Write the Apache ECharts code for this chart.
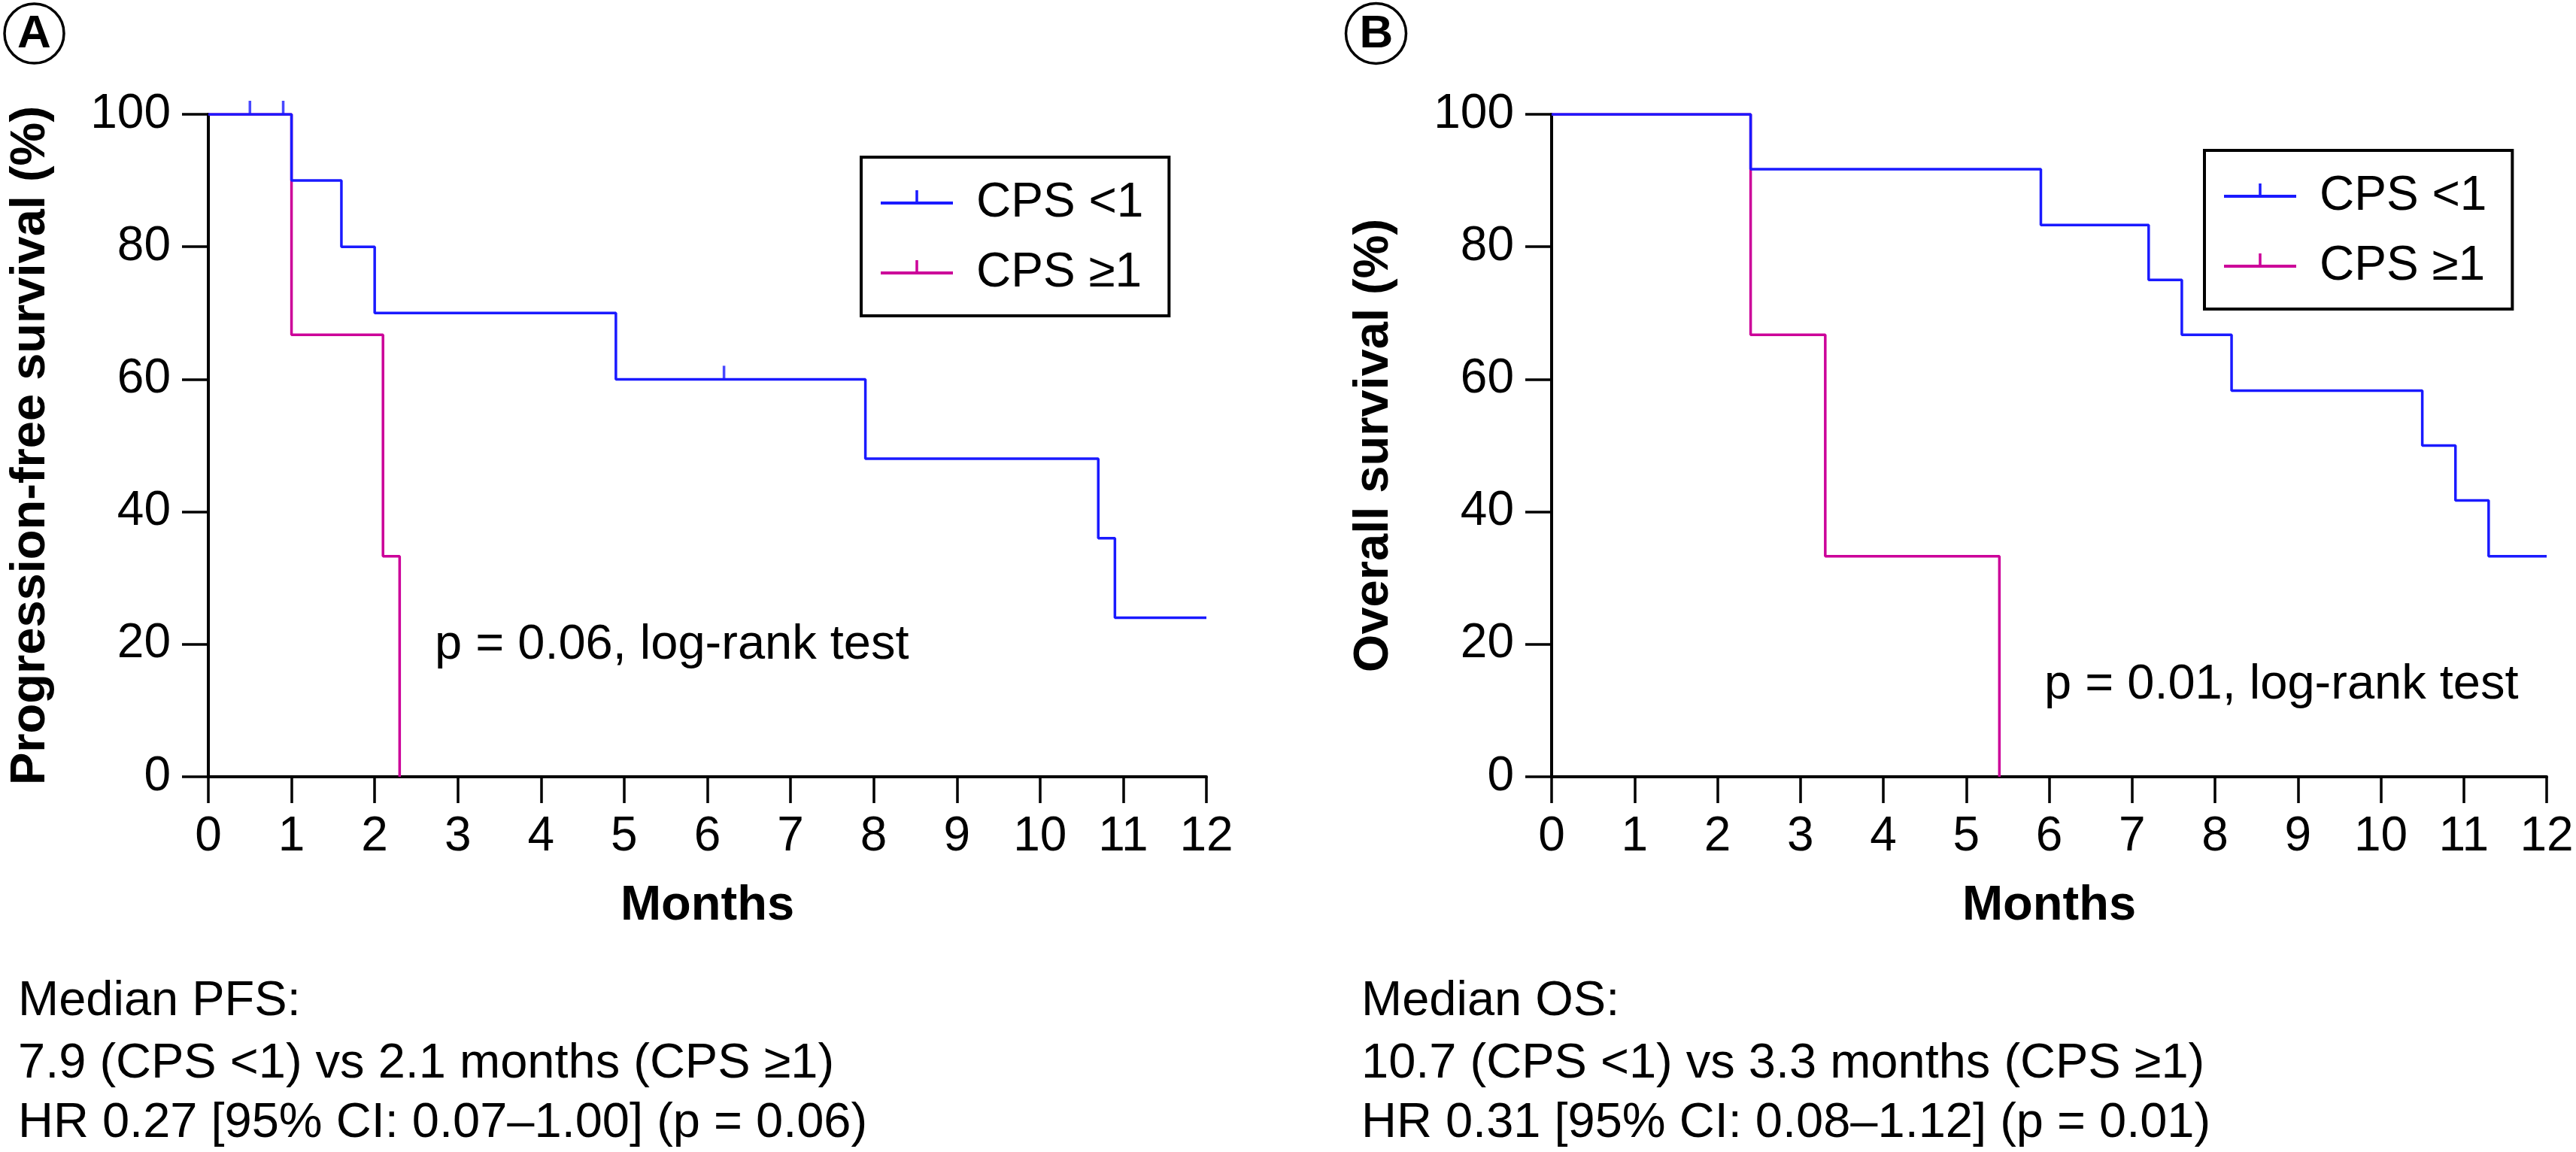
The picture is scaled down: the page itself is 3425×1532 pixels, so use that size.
<!DOCTYPE html>
<html>
<head>
<meta charset="utf-8">
<script src="https://cdn.jsdelivr.net/npm/echarts@6/dist/echarts.min.js"></script>
<style>
html,body{margin:0;padding:0;background:#fff;}
#c{width:3425px;height:1532px;}
</style>
</head>
<body>
<div id="c"></div>
<script>
// ---------------- data ----------------
const groups = ['CPS <1', 'CPS \u22651'];

// Panel A: progression-free survival
const pfsLowTime  = [0, 1.0, 1.6, 2.0, 4.9, 7.9, 10.7, 10.9, 12.0];
const pfsLowSurv  = [100, 90, 80, 70, 60, 48, 36, 24, 24];
const pfsLowCensorTime = [0.5, 0.9, 6.2];
const pfsLowCensorSurv = [100, 100, 60];
const pfsHighTime = [0, 1.0, 2.1, 2.3];
const pfsHighSurv = [100, 66.7, 33.3, 0];

// Panel B: overall survival
const osLowTime  = [0, 2.4, 5.9, 7.2, 7.6, 8.2, 10.5, 10.9, 11.3, 12.0];
const osLowSurv  = [100, 91.7, 83.3, 75, 66.7, 58.3, 50, 41.7, 33.3, 33.3];
const osHighTime = [0, 2.4, 3.3, 5.4];
const osHighSurv = [100, 66.7, 33.3, 0];

// axes
const monthMin = 0, monthMax = 12, monthStep = 1;
const survMin = 0, survMax = 100, survStep = 20;

// texts
const pText = ['p = 0.06, log-rank test', 'p = 0.01, log-rank test'];
const yTitles = ['Progression-free survival (%)', 'Overall survival (%)'];
const xTitle = 'Months';
const summaryA = ['Median PFS:', '7.9 (CPS <1) vs 2.1 months (CPS \u22651)', 'HR 0.27 [95% CI: 0.07\u20131.00] (p = 0.06)'];
const summaryB = ['Median OS:', '10.7 (CPS <1) vs 3.3 months (CPS \u22651)', 'HR 0.31 [95% CI: 0.08\u20131.12] (p = 0.01)'];

// ---------------- style ----------------
const F = '"Liberation Sans", Arial, Helvetica, sans-serif';
const BLUE = '#1a1aff';
const MAG = '#cc0099';
const zip = (t, s) => t.map((x, i) => [x, s[i]]);

const ICON = 'path://M0,15.1 L96,15.1 L96,18.9 L0,18.9 Z M46.25,0 L49.75,0 L49.75,16 L46.25,16 Z M122,34 L122,34 Z';

function xAx(gi) {
  return {
    type: 'value', gridIndex: gi, min: monthMin, max: monthMax, interval: monthStep,
    name: xTitle, nameLocation: 'middle', nameGap: 140,
    nameTextStyle: {fontSize: 65, fontWeight: 'bold', fontFamily: F, color: '#000', lineHeight: 65},
    axisLine: {show: true, onZero: false, lineStyle: {color: '#000', width: 4}},
    axisTick: {show: true, length: 35, lineStyle: {color: '#000', width: 3.5}},
    axisLabel: {margin: 48, fontSize: 64, fontFamily: F, color: '#000', lineHeight: 64},
    splitLine: {show: false}
  };
}
function yAx(gi, title) {
  return {
    type: 'value', gridIndex: gi, min: survMin, max: survMax, interval: survStep,
    name: title, nameLocation: 'middle', nameGap: 203,
    nameTextStyle: {fontSize: 65, fontWeight: 'bold', fontFamily: F, color: '#000', lineHeight: 65},
    axisLine: {show: true, onZero: false, lineStyle: {color: '#000', width: 4}},
    axisTick: {show: true, length: 35, lineStyle: {color: '#000', width: 3.5}},
    axisLabel: {margin: 50, fontSize: 64, fontFamily: F, color: '#000', lineHeight: 64},
    splitLine: {show: false}
  };
}
function legend(left, top) {
  return {
    orient: 'vertical', left: left, top: top,
    padding: [29, 34, 25, 26], itemGap: 29,
    itemWidth: 122, itemHeight: 34,
    borderColor: '#000', borderWidth: 4, backgroundColor: '#fff',
    selectedMode: false,
    textStyle: {fontSize: 64, fontFamily: F, color: '#000', lineHeight: 64},
    data: [
      {name: groups[0], icon: ICON, itemStyle: {color: BLUE, borderWidth: 0}},
      {name: groups[1], icon: ICON, itemStyle: {color: MAG, borderWidth: 0}}
    ]
  };
}
function km(name, gi, data, color) {
  return {
    type: 'line', name: name, xAxisIndex: gi, yAxisIndex: gi, step: 'end',
    data: data, showSymbol: false, symbol: 'none',
    lineStyle: {color: color, width: 3.5}, itemStyle: {color: color},
    emphasis: {disabled: true}, silent: true
  };
}
function censor(name, gi, data, color) {
  return {
    type: 'scatter', name: name, xAxisIndex: gi, yAxisIndex: gi,
    data: data, symbol: 'rect', symbolSize: [3.5, 18], symbolOffset: [0, -9],
    itemStyle: {color: color}, clip: false, silent: true, z: 3
  };
}
function txt(text, x, y, opts) {
  opts = opts || {};
  return {
    type: 'text', z: 10,
    style: {
      text: text, x: x, y: y,
      font: (opts.bold ? 'bold ' : '') + (opts.size || 65) + 'px ' + F,
      fill: '#000',
      align: opts.align || 'left', textAlign: opts.align || 'left',
      verticalAlign: 'middle', textVerticalAlign: 'middle'
    }
  };
}

const graphic = [
  {type: 'circle', shape: {cx: 45.5, cy: 44.5, r: 39.5}, style: {fill: '#fff', stroke: '#000', lineWidth: 3.5}},
  txt('A', 45.5, 46, {bold: true, size: 62, align: 'center'}),
  {type: 'circle', shape: {cx: 1829.5, cy: 44.5, r: 40}, style: {fill: '#fff', stroke: '#000', lineWidth: 3.5}},
  txt('B', 1830, 46, {bold: true, size: 62, align: 'center'}),
  txt(pText[0], 578, 858),
  txt(pText[1], 2718, 911),
  txt(summaryA[0], 24, 1332),
  txt(summaryA[1], 24, 1415),
  txt(summaryA[2], 24, 1494),
  txt(summaryB[0], 1810, 1332),
  txt(summaryB[1], 1810, 1415),
  txt(summaryB[2], 1810, 1494)
];

const option = {
  animation: false,
  backgroundColor: '#fff',
  grid: [
    {left: 277, top: 152, width: 1327, height: 881, outerBoundsMode: 'none', containLabel: false},
    {left: 2063, top: 152, width: 1323, height: 881, outerBoundsMode: 'none', containLabel: false}
  ],
  xAxis: [xAx(0), xAx(1)],
  yAxis: [yAx(0, yTitles[0]), yAx(1, yTitles[1])],
  legend: [legend(1145, 209), legend(2931, 200)],
  series: [
    km(groups[1], 0, zip(pfsHighTime, pfsHighSurv), MAG),
    km(groups[0], 0, zip(pfsLowTime, pfsLowSurv), BLUE),
    censor('CPS <1 censored', 0, zip(pfsLowCensorTime, pfsLowCensorSurv), BLUE),
    km(groups[1], 1, zip(osHighTime, osHighSurv), MAG),
    km(groups[0], 1, zip(osLowTime, osLowSurv), BLUE)
  ],
  graphic: graphic
};

const chart = echarts.init(document.getElementById('c'), null, {renderer: 'canvas'});
chart.setOption(option);
</script>
</body>
</html>
